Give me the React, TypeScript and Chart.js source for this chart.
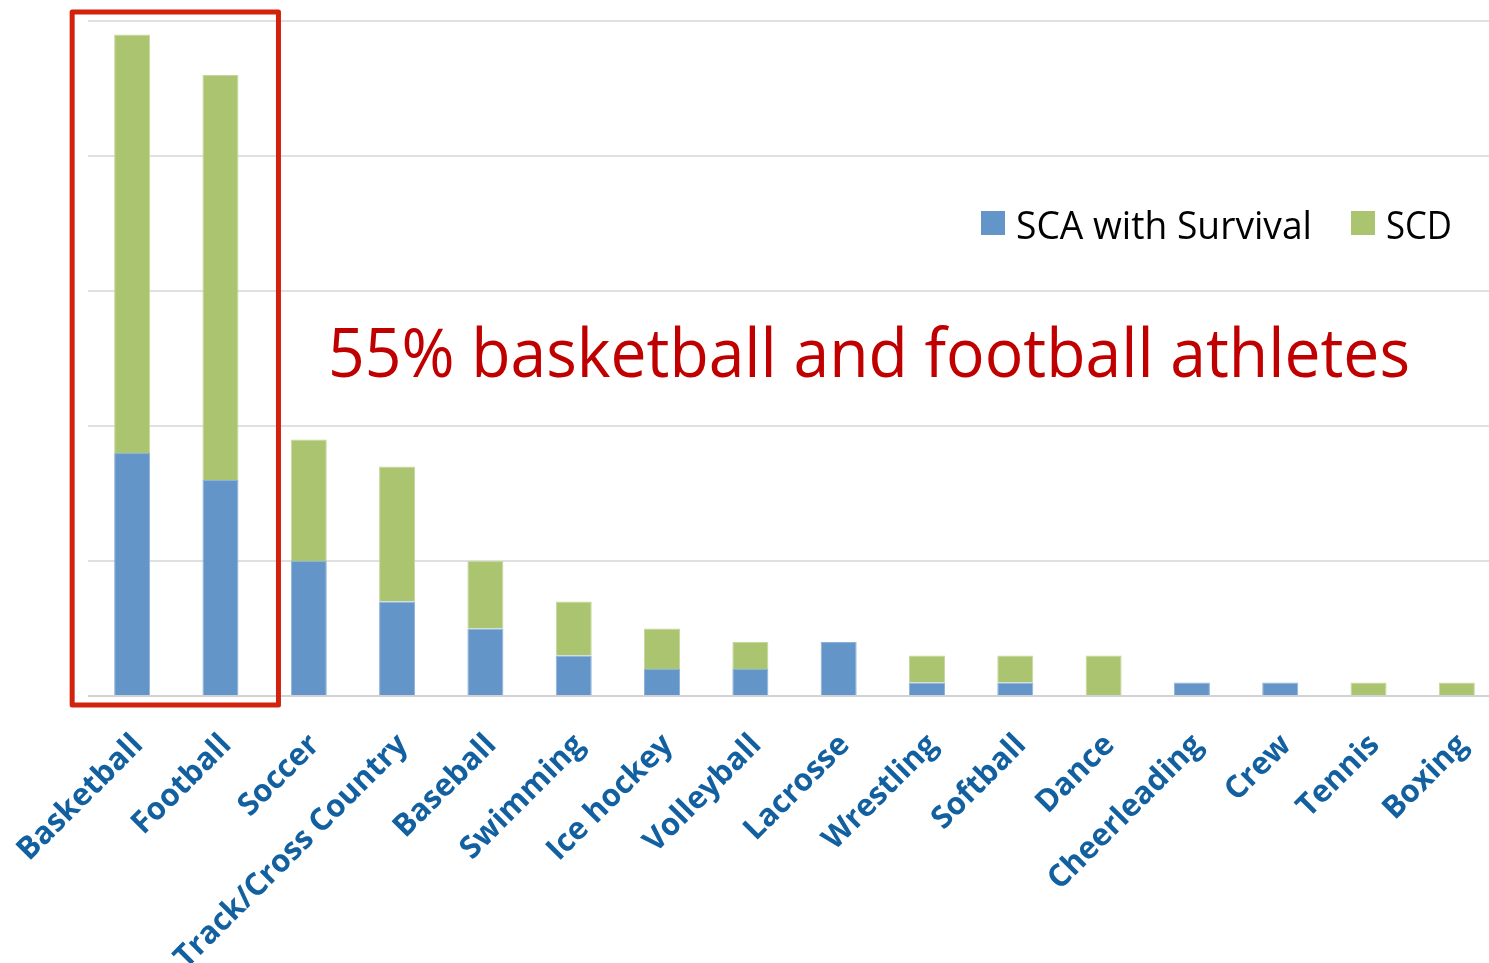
import React, { useEffect, useRef } from "react";
import { Chart, registerables } from "chart.js";

Chart.register(...registerables);

const categories = [
  "Basketball",
  "Football",
  "Soccer",
  "Track/Cross Country",
  "Baseball",
  "Swimming",
  "Ice hockey",
  "Volleyball",
  "Lacrosse",
  "Wrestling",
  "Softball",
  "Dance",
  "Cheerleading",
  "Crew",
  "Tennis",
  "Boxing",
];
const scaWithSurvival = [18, 16, 10, 7, 5, 3, 2, 2, 4, 1, 1, 0, 1, 1, 0, 0];
const scd = [31, 30, 9, 10, 5, 4, 3, 2, 0, 2, 2, 3, 0, 0, 1, 1];
const seriesLabels = ["SCA with Survival", "SCD"];
const seriesColors = ["#6495C9", "#ABC46F"];
const seriesBorders = ["#8DB2DA", "#C6D79C"];
const annotationText = "55% basketball and football athletes";
const yMin = 0;
const yMax = 50;
const yStep = 10;

const FONT = "'Open Sans', 'Noto Sans', sans-serif";

const overlayPlugin = {
  id: "overlay",
  afterDraw(chart: any) {
    const ctx = chart.ctx as CanvasRenderingContext2D;
    const x = chart.scales.x;
    const y = chart.scales.y;

    // red highlight box around first two categories
    ctx.save();
    ctx.strokeStyle = "#D2220C";
    ctx.lineWidth = 5;
    ctx.lineJoin = "round";
    const left = x.getPixelForValue(0) - 60;
    const right = x.getPixelForValue(1) + 58;
    const top = y.getPixelForValue(yMax) - 9;
    const bottom = y.getPixelForValue(yMin) + 9;
    ctx.strokeRect(left, top, right - left, bottom - top);
    ctx.restore();

    // annotation text
    ctx.save();
    ctx.fillStyle = "#C00000";
    ctx.font = `400 68px ${FONT}`;
    ctx.textBaseline = "alphabetic";
    ctx.textAlign = "left";
    ctx.fillText(annotationText, 328, 377, 1082);
    ctx.restore();

    // legend
    ctx.save();
    ctx.font = `400 38px ${FONT}`;
    ctx.textBaseline = "alphabetic";
    ctx.textAlign = "left";
    const items = [
      { box: 981, text: 1016, w: 296 },
      { box: 1351, text: 1386, w: 66 },
    ];
    chart.data.datasets.forEach((ds: any, i: number) => {
      const it = items[i];
      ctx.fillStyle = ds.backgroundColor;
      ctx.fillRect(it.box, 211, 24, 24);
      ctx.fillStyle = "#000000";
      ctx.fillText(ds.label, it.text, 239, it.w);
    });
    ctx.restore();
  },
};

export default function App() {
  const canvasRef = useRef<HTMLCanvasElement | null>(null);

  useEffect(() => {
    const canvas = canvasRef.current;
    if (!canvas) return;
    const chart = new Chart(canvas, {
      type: "bar",
      data: {
        labels: categories,
        datasets: [
          {
            label: seriesLabels[0],
            data: scaWithSurvival,
            backgroundColor: seriesColors[0],
            borderColor: seriesBorders[0],
            borderWidth: 1,
            barPercentage: 0.408,
            categoryPercentage: 1,
          },
          {
            label: seriesLabels[1],
            data: scd,
            backgroundColor: seriesColors[1],
            borderColor: seriesBorders[1],
            borderWidth: 1,
            barPercentage: 0.408,
            categoryPercentage: 1,
          },
        ],
      },
      options: {
        responsive: false,
        animation: false,
        devicePixelRatio: 1,
        layout: { padding: { left: 88, top: 21, right: 0, bottom: 0 } },
        plugins: {
          legend: { display: false },
          tooltip: { enabled: false },
        },
        scales: {
          x: {
            stacked: true,
            grid: { display: false },
            border: { display: false },
            ticks: {
              autoSkip: false,
              maxRotation: 45,
              minRotation: 45,
              color: "#1260A0",
              padding: 23,
              labelOffset: 6,
              font: { family: FONT, weight: "bold", size: 31 },
            },
            afterFit: (scale: any) => {
              scale.height = 267;
              scale.paddingLeft = 0;
              scale.paddingRight = 0;
            },
          },
          y: {
            stacked: true,
            min: yMin,
            max: yMax,
            ticks: { display: false, stepSize: yStep },
            border: { display: false },
            grid: {
              drawTicks: false,
              lineWidth: 2,
              color: (c: any) => (c.tick && c.tick.value === 0 ? "#D2D2D2" : "#E0E0E0"),
            },
            afterFit: (scale: any) => {
              scale.width = 0;
            },
          },
        },
      },
      plugins: [overlayPlugin],
    });
    return () => chart.destroy();
  }, []);

  return (
    <div
      style={{
        position: "fixed",
        left: 0,
        top: 0,
        width: 1489,
        height: 963,
        overflow: "hidden",
        background: "#ffffff",
      }}
    >
      <canvas ref={canvasRef} width={1501} height={963} style={{ display: "block" }} />
    </div>
  );
}
